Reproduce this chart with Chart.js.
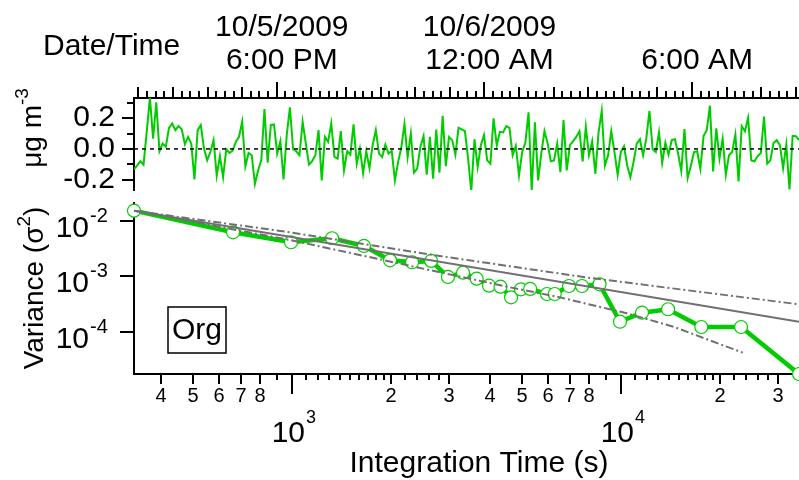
<!DOCTYPE html>
<html lang="en">
<head>
<meta charset="UTF-8">
<title>Org - Allan variance</title>
<script src="https://cdn.jsdelivr.net/npm/chart.js@4.4.0/dist/chart.umd.min.js"></script>
<style>
  html, body { margin: 0; padding: 0; background: #fff; }
  #wrap { position: relative; width: 799px; height: 480px; overflow: hidden; }
  #topChart { position: absolute; left: 0; top: 0; }
  #bottomChart { position: absolute; left: 0; top: 195px; }
</style>
</head>
<body>
<div id="wrap">
  <canvas id="topChart" width="799" height="195"></canvas>
  <canvas id="bottomChart" width="799" height="285"></canvas>
</div>
<script>
const FONT = "'Liberation Sans', Arial, Helvetica, sans-serif";
const GREEN = 'rgb(0,204,0)';
const GRAY = 'rgb(112,112,112)';

// ---- time series (ug m-3), one sample every 331 s ----
const startHour = 13.874;          // hours after midnight 10/5/2009
const stepSec = 331;
const orgValues = [
  -0.133, -0.107, -0.080, -0.102, 0.111, 0.333, 0.067, 0.302, -0.015, 0.035,
  0.013, 0.137, 0.165, 0.122, 0.148, 0.128, 0.030, 0.078, 0.035, -0.198,
  0.122, 0.154, 0.002, -0.074, -0.020, 0.057, -0.172, -0.046, -0.183, -0.002,
  -0.026, -0.011, 0.046, 0.078, 0.176, -0.113, -0.026, -0.041, -0.226, -0.139,
  -0.074, 0.259, -0.089, 0.154, 0.159, -0.030, 0.050, -0.198, 0.089, 0.270,
  -0.002, -0.015, -0.041,
  0.176, 0.035, -0.102, -0.080, -0.041, 0.122, -0.204, 0.078, 0.046, 0.165,
  -0.052, -0.063, 0.115, -0.139, -0.015, -0.037, 0.159, -0.096, 0.002, -0.157,
  -0.015, -0.124, 0.024, 0.122, -0.030, -0.052, 0.028, -0.030, -0.013, -0.204,
  -0.085, 0.007, 0.161, -0.052, 0.100, -0.154, -0.128, 0.013, 0.083, -0.167,
  0.078, -0.193, 0.126, -0.154, 0.215, -0.111, 0.078, 0.057, -0.037, 0.137,
  0.126,
  0.115, -0.063, -0.276, 0.063, -0.117, 0.024, 0.089, -0.074, -0.096, 0.198,
  0.024, 0.111, 0.107, 0.148, 0.137, -0.041, 0.020, -0.172, -0.020, 0.041,
  0.237, -0.274, 0.172, -0.204, -0.030, 0.115, 0.035, -0.080, -0.074, 0.035,
  -0.150, 0.187, -0.139, 0.024, 0.050, 0.078, 0.115, -0.080, 0.143, -0.041,
  0.050, -0.161, 0.107, 0.246, -0.107, -0.041, 0.115, -0.020, -0.167, -0.020,
  0.017, -0.107,
  -0.183, -0.085, 0.035, 0.063, -0.041, 0.067, 0.246, -0.002, -0.020, 0.107,
  -0.091, 0.041, -0.037, 0.057, 0.063, -0.030, -0.143, 0.128, -0.189, -0.111,
  -0.020, -0.015, -0.128, 0.083, 0.122, 0.280, -0.146, 0.133, -0.063, 0.067,
  -0.167, -0.041, -0.020, 0.093, -0.211, 0.148, 0.115, 0.202, -0.074, -0.080,
  -0.046, -0.026, 0.209, -0.096, -0.074, 0.039, 0.057, 0.024, -0.124, 0.028,
  -0.263, 0.085, 0.083, 0.057
];
const timeRange = [13.874, 33.09];
const concRange = [-0.266, 0.330];
const concTicks = [-0.2, -0.1, 0, 0.1, 0.2, 0.3];
const concLabelled = [-0.2, 0, 0.2];
const dateTickHours = [18, 24, 30];
const dateTickLabels = [['10/5/2009', '6:00 PM'], ['10/6/2009', '12:00 AM'], ['', '6:00 AM']];

// ---- Allan variance ----
const tau = [331, 662, 993, 1324, 1655, 1986, 2317, 2648, 2979, 3310, 3641, 3972, 4303, 4634,
  4965, 5296, 5958, 6289, 6951, 7613, 8606, 9930, 11585, 13902, 17543, 23170, 34755];
const allanVar = [0.01535, 0.00625, 0.00413, 0.00488, 0.00354, 0.00195, 0.00180, 0.00190,
  0.000976, 0.001167, 0.000908, 0.000679, 0.000652, 0.000419, 0.000585, 0.000593, 0.000481,
  0.000481, 0.000671, 0.000671, 0.000720, 0.000152, 0.000221, 0.000255, 0.000122, 0.000122,
  0.0000173];
const fitTau = [331, 34755];
const fitVar = [0.0153, 0.000152];
const upperTau = [331, 986, 2818, 8054, 34755];
const upperVar = [0.0153, 0.00625, 0.00233, 0.000935, 0.000313];
const lowerTau = [331, 986, 4494, 6376, 10407, 14420, 23440];
const lowerVar = [0.0153, 0.00454, 0.000652, 0.000431, 0.000216, 0.0001236, 0.000042];
const tauRange = [331, 34755];
const varRange = [1.73e-5, 0.0211];
const varTicks = [1e-2, 1e-3, 1e-4];

function xy(xs, ys) { return xs.map((x, i) => ({ x: x, y: ys[i] })); }
function tick(ctx, x1, y1, x2, y2) { ctx.beginPath(); ctx.moveTo(x1, y1); ctx.lineTo(x2, y2); ctx.stroke(); }
function mant(v) { return +(v / Math.pow(10, Math.floor(Math.log10(v) + 1e-9))).toFixed(2); }
function near(a, b) { return Math.abs(a - b) < 1e-9; }
// keep chart area fixed: no extra room for first/last labels
function noPad(s) { s.paddingLeft = 0; s.paddingRight = 0; s.paddingTop = 0; s.paddingBottom = 0; }

// draws a rotated title with a superscript piece
function rotatedTitle(ctx, x, yc, parts) {
  ctx.save();
  ctx.translate(x, yc);
  ctx.rotate(-Math.PI / 2);
  ctx.textAlign = 'left';
  ctx.textBaseline = 'alphabetic';
  let total = 0;
  parts.forEach(p => { ctx.font = p.size + 'px ' + FONT; p.w = ctx.measureText(p.text).width; total += p.w; });
  let sx = -total / 2;
  parts.forEach(p => { ctx.font = p.size + 'px ' + FONT; ctx.fillText(p.text, sx, p.rise || 0); sx += p.w; });
  ctx.restore();
}

const axisBorder = { display: true, color: '#000', width: 2 };
const noGrid = { display: false, drawTicks: false };

// ---- top panel ----
const topDecor = {
  id: 'topDecor',
  afterDraw(chart) {
    const { ctx, chartArea: a, scales: { x, y } } = chart;
    ctx.save();
    ctx.strokeStyle = '#000';
    ctx.lineWidth = 2;
    x.ticks.forEach(t => {
      const h = t.value;
      const len = near(h % 6, 0) ? 16 : near(h, Math.round(h)) ? 11 : 7;
      const px = Math.round(x.getPixelForValue(h));
      tick(ctx, px, a.top, px, a.top - len);
    });
    y.ticks.forEach(t => {
      const len = concLabelled.some(v => near(v, t.value)) ? 12 : 7;
      const py = Math.round(y.getPixelForValue(t.value));
      tick(ctx, a.left, py, a.left - len, py);
    });
    ctx.fillStyle = '#000';
    ctx.font = '30px ' + FONT;
    ctx.textAlign = 'left';
    ctx.textBaseline = 'alphabetic';
    ctx.fillText('Date/Time', 43, 55);
    rotatedTitle(ctx, 41, 128, [{ text: 'μg m', size: 28 }, { text: '-3', size: 19, rise: -13 }]);
    ctx.restore();
  }
};

new Chart(document.getElementById('topChart'), {
  type: 'line',
  data: {
    datasets: [
      {
        data: orgValues.map((v, i) => ({ x: startHour + i * stepSec / 3600, y: v })),
        borderColor: GREEN, borderWidth: 2, pointRadius: 0, tension: 0, order: 2
      },
      {
        data: xy(timeRange, [0, 0]),
        borderColor: '#000', borderWidth: 1.5, borderDash: [4, 4], pointRadius: 0, order: 1
      }
    ]
  },
  options: {
    responsive: false,
    animation: false,
    events: [],
    layout: { autoPadding: false, padding: { left: 0, right: 0, top: 0, bottom: 5 } },
    plugins: { legend: { display: false }, tooltip: { enabled: false } },
    scales: {
      x: {
        type: 'linear', position: 'top', min: timeRange[0], max: timeRange[1],
        afterBuildTicks: s => {
          const arr = [];
          for (let q = Math.ceil(s.min * 4); q <= s.max * 4; q++) arr.push({ value: q / 4 });
          s.ticks = arr;
        },
        afterFit: s => { s.height = 98; noPad(s); },
        grid: noGrid, border: axisBorder,
        ticks: {
          autoSkip: false, maxRotation: 0, minRotation: 0, padding: 21, labelOffset: 5, color: '#000',
          font: { family: FONT, size: 30, lineHeight: 1.1 },
          callback: v => {
            const k = dateTickHours.indexOf(v);
            return k >= 0 ? dateTickLabels[k] : '';
          }
        }
      },
      y: {
        type: 'linear', min: concRange[0], max: concRange[1],
        afterBuildTicks: s => { s.ticks = concTicks.map(v => ({ value: v })); },
        afterFit: s => { s.width = 134; noPad(s); },
        grid: noGrid, border: axisBorder,
        ticks: {
          autoSkip: false, padding: 19, color: '#000', font: { family: FONT, size: 30 },
          callback: v => concLabelled.some(c => near(c, v)) ? v.toFixed(1) : ''
        }
      }
    }
  },
  plugins: [topDecor]
});

// ---- bottom panel ----
const bottomDecor = {
  id: 'bottomDecor',
  afterDraw(chart) {
    const { ctx, chartArea: a, scales: { x, y } } = chart;
    ctx.save();
    ctx.strokeStyle = '#000';
    ctx.fillStyle = '#000';
    ctx.lineWidth = 2;
    ctx.textBaseline = 'alphabetic';
    x.ticks.forEach(t => {
      const m = mant(t.value);
      const len = m === 1 ? 20 : (Number.isInteger(m) && m <= 8 ? 10 : 6);
      const px = Math.round(x.getPixelForValue(t.value));
      tick(ctx, px, a.bottom, px, a.bottom + len);
      if (m === 1) {
        const e = Math.round(Math.log10(t.value));
        ctx.font = '30px ' + FONT; ctx.textAlign = 'right';
        ctx.fillText('10', px + 13, a.bottom + 68);
        ctx.font = '18px ' + FONT; ctx.textAlign = 'left';
        ctx.fillText(String(e), px + 14, a.bottom + 49);
      }
    });
    y.ticks.forEach(t => {
      const py = Math.round(y.getPixelForValue(t.value));
      tick(ctx, a.left, py, a.left - 14, py);
      const e = Math.round(Math.log10(t.value));
      ctx.font = '30px ' + FONT; ctx.textAlign = 'right';
      ctx.fillText('10', a.left - 45, py + 16);
      ctx.font = '20px ' + FONT; ctx.textAlign = 'left';
      ctx.fillText(String(e), a.left - 44, py + 1);
    });
    // axis title
    ctx.font = '30px ' + FONT; ctx.textAlign = 'center';
    ctx.fillText('Integration Time (s)', 479, 277);
    rotatedTitle(ctx, 43, 93, [{ text: 'Variance (σ', size: 28 }, { text: '2', size: 19, rise: -13 }, { text: ')', size: 28 }]);
    // label box
    ctx.lineWidth = 1.5;
    ctx.strokeRect(a.left + 34, a.top + 104, 58, 46);
    ctx.font = '30px ' + FONT; ctx.textAlign = 'center'; ctx.textBaseline = 'middle';
    ctx.fillText('Org', a.left + 63, a.top + 128);
    ctx.restore();
  }
};

new Chart(document.getElementById('bottomChart'), {
  type: 'line',
  data: {
    datasets: [
      {
        data: xy(tau, allanVar),
        borderColor: GREEN, borderWidth: 4.5, tension: 0,
        pointRadius: 6.5, pointBorderWidth: 1.2, pointBackgroundColor: '#fff', pointBorderColor: GREEN,
        clip: false, order: 2
      },
      { data: xy(fitTau, fitVar), borderColor: GRAY, borderWidth: 2, pointRadius: 0, order: 1 },
      { data: xy(upperTau, upperVar), borderColor: GRAY, borderWidth: 2, borderDash: [8, 3, 2, 3], pointRadius: 0, order: 1 },
      { data: xy(lowerTau, lowerVar), borderColor: GRAY, borderWidth: 2, borderDash: [8, 3, 2, 3], pointRadius: 0, order: 1 }
    ]
  },
  options: {
    responsive: false,
    animation: false,
    events: [],
    layout: { autoPadding: false, padding: { left: 0, right: 0, top: 8, bottom: 0 } },
    plugins: { legend: { display: false }, tooltip: { enabled: false } },
    scales: {
      x: {
        type: 'logarithmic', position: 'bottom', min: tauRange[0], max: tauRange[1],
        afterBuildTicks: s => {
          const ms = [1, 1.1, 1.2, 1.3, 1.4, 1.5, 1.6, 1.7, 1.8, 1.9, 2, 2.2, 2.4, 2.6, 2.8, 3, 4, 5, 6, 7, 8, 9];
          const arr = [];
          [100, 1000, 10000].forEach(d => ms.forEach(m => {
            const v = +(m * d).toFixed(3);
            if (v >= s.min && v <= s.max) arr.push({ value: v });
          }));
          s.ticks = arr;
        },
        afterFit: s => { s.height = 106; noPad(s); },
        grid: noGrid, border: axisBorder,
        ticks: {
          autoSkip: false, maxRotation: 0, minRotation: 0, padding: 10, color: '#000',
          font: { family: FONT, size: 20 },
          callback: v => {
            const m = mant(v);
            return (Number.isInteger(m) && m >= 2 && m <= 8) ? String(m) : '';
          }
        }
      },
      y: {
        type: 'logarithmic', min: varRange[0], max: varRange[1],
        afterBuildTicks: s => { s.ticks = varTicks.map(v => ({ value: v })); },
        afterFit: s => { s.width = 134; noPad(s); },
        grid: noGrid, border: axisBorder,
        ticks: { callback: () => '' }
      }
    }
  },
  plugins: [bottomDecor]
});
</script>
</body>
</html>
